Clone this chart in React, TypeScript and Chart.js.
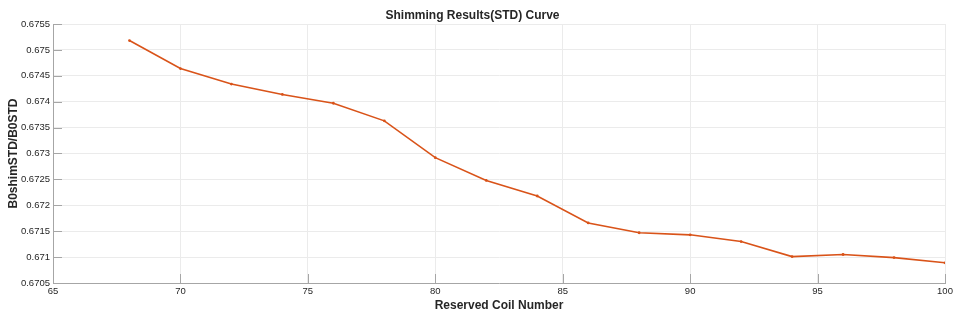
import { useEffect, useRef } from "react";
import { Chart, registerables } from "chart.js";

Chart.register(...registerables);

const coilNumbers = [68, 70, 72, 74, 76, 78, 80, 82, 84, 86, 88, 90, 92, 94, 96, 98, 100];
const stdRatio = [
  0.67518, 0.67464, 0.67434, 0.67414, 0.67397, 0.67363, 0.67292, 0.67248, 0.67218,
  0.67166, 0.67147, 0.67143, 0.6713, 0.67101, 0.67105, 0.67099, 0.67089,
];
const xTicks = [65, 70, 75, 80, 85, 90, 95, 100];
const yTicks = [0.6705, 0.671, 0.6715, 0.672, 0.6725, 0.673, 0.6735, 0.674, 0.6745, 0.675, 0.6755];

const FONT = "'Liberation Sans', Arial, Helvetica, sans-serif";
const AXIS_COLOR = "#a6a6a6";
const GRID_COLOR = "#ebebeb";
const TEXT_COLOR = "#262626";
const LINE_COLOR = "#D95319";

const innerTicks = {
  id: "innerTicks",
  afterDatasetsDraw(chart: any) {
    const { ctx, chartArea } = chart;
    const xs = chart.scales.x;
    const ys = chart.scales.y;
    const len = 9;
    ctx.save();
    ctx.strokeStyle = AXIS_COLOR;
    ctx.lineWidth = 1;
    ctx.beginPath();
    xs.ticks.forEach((t: any) => {
      const px = Math.round(xs.getPixelForValue(t.value)) + 0.5;
      ctx.moveTo(px, chartArea.bottom);
      ctx.lineTo(px, chartArea.bottom - len);
    });
    ys.ticks.forEach((t: any) => {
      const py = Math.round(ys.getPixelForValue(t.value)) + 0.5;
      ctx.moveTo(chartArea.left, py);
      ctx.lineTo(chartArea.left + len, py);
    });
    ctx.stroke();
    ctx.restore();
  },
};

export default function App() {
  const canvasRef = useRef<HTMLCanvasElement | null>(null);

  useEffect(() => {
    document.body.style.margin = "0";
    const canvas = canvasRef.current;
    if (!canvas) return;
    const chart = new Chart(canvas, {
      type: "line",
      data: {
        datasets: [
          {
            data: coilNumbers.map((x, i) => ({ x, y: stdRatio[i] })),
            borderColor: LINE_COLOR,
            backgroundColor: LINE_COLOR,
            borderWidth: 1.6,
            pointRadius: 0.6,
            pointHoverRadius: 0.6,
            tension: 0,
            fill: false,
          },
        ],
      },
      options: {
        animation: false,
        responsive: true,
        maintainAspectRatio: false,
        layout: { padding: { left: 0, right: 13, top: 0, bottom: 0 } },
        plugins: {
          legend: { display: false },
          tooltip: { enabled: false },
          title: {
            display: true,
            text: "Shimming Results(STD) Curve",
            color: TEXT_COLOR,
            font: { family: FONT, size: 12, weight: "bold" },
            padding: { top: 8, bottom: 1.6 },
          },
        },
        scales: {
          x: {
            type: "linear",
            min: 65,
            max: 100,
            afterBuildTicks: (scale: any) => {
              scale.ticks = xTicks.map((v) => ({ value: v }));
            },
            afterFit: (scale: any) => {
              scale.height = 35;
            },
            ticks: {
              color: TEXT_COLOR,
              font: { family: FONT, size: 9.5 },
              padding: 3,
              maxRotation: 0,
              autoSkip: false,
            },
            grid: { color: GRID_COLOR, drawTicks: false },
            border: { color: AXIS_COLOR, width: 1 },
            title: {
              display: true,
              text: "Reserved Coil Number",
              color: TEXT_COLOR,
              font: { family: FONT, size: 12, weight: "bold" },
              padding: { top: 0, bottom: 5 },
            },
          },
          y: {
            type: "linear",
            min: 0.6705,
            max: 0.6755,
            afterBuildTicks: (scale: any) => {
              scale.ticks = yTicks.map((v) => ({ value: v }));
            },
            afterFit: (scale: any) => {
              scale.width = 53;
            },
            ticks: {
              color: TEXT_COLOR,
              font: { family: FONT, size: 9.5 },
              padding: 3,
              autoSkip: false,
              callback: (v: any) => String(Number(Number(v).toFixed(4))),
            },
            grid: { color: GRID_COLOR, drawTicks: false },
            border: { color: AXIS_COLOR, width: 1 },
            title: {
              display: true,
              text: "B0shimSTD/B0STD",
              color: TEXT_COLOR,
              font: { family: FONT, size: 12, weight: "bold" },
              padding: { top: 6, bottom: 0 },
            },
          },
        },
      },
      plugins: [innerTicks],
    });
    return () => chart.destroy();
  }, []);

  return (
    <div style={{ position: "relative", width: 958, height: 318 }}>
      <canvas ref={canvasRef} />
    </div>
  );
}
